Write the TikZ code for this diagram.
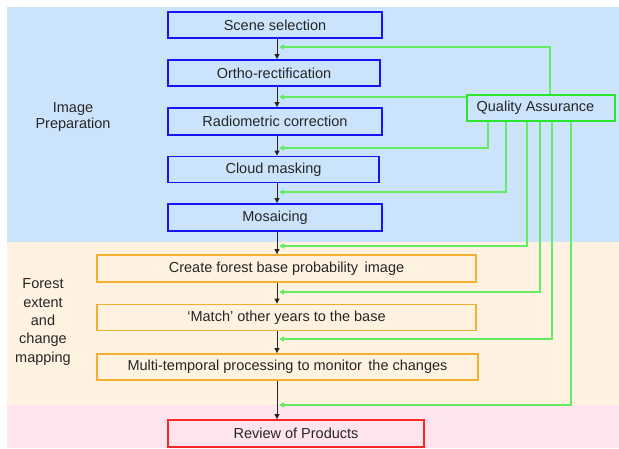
\documentclass[tikz,border=0pt]{standalone}
\usepackage{fontspec}
\setmainfont{Liberation Sans}
\usetikzlibrary{arrows.meta}
\definecolor{bgblue}{RGB}{204,228,251}
\definecolor{bgbeige}{RGB}{255,242,224}
\definecolor{bgpink}{RGB}{255,228,238}
\definecolor{bblue}{RGB}{20,20,245}
\definecolor{borange}{RGB}{240,176,48}
\definecolor{bred}{RGB}{250,40,40}
\definecolor{bgreen}{RGB}{40,230,40}
\definecolor{lgreen}{RGB}{100,235,100}
\tikzset{
  txt/.style={font=\fontsize{14.5}{17.5}\selectfont, text=black!85},
  stepbox/.style={txt, draw, line width=1.8pt, inner sep=0pt, anchor=center},
  bluebox/.style={stepbox, draw=bblue},
  orangebox/.style={stepbox, draw=borange},
  redbox/.style={stepbox, draw=bred},
  qabox/.style={draw=bgreen, line width=1.8pt, inner sep=0pt, minimum width=148, minimum height=26},
  blk/.style={draw=black!85, line width=0.9pt, -{Triangle[length=5,width=5]}},
  grn/.style={draw=lgreen, line width=1.2pt, -{Triangle[length=5,width=5]}, color=lgreen},
}
\begin{document}
\begin{tikzpicture}[x=1pt,y=-1pt]
\useasboundingbox (0,0) rectangle (619,448);
% backgrounds
\fill[bgblue] (7,7) rectangle (619,242);
\fill[bgbeige] (7,242) rectangle (619,405);
\fill[bgpink] (7,405) rectangle (619,448);
% side labels
\node[txt, align=center] (lab1) at (73,117) {Image\\[-1pt]Preparation};
\node[txt, align=center, font=\fontsize{14.5}{18.3}\selectfont] (lab2) at (43,322) {Forest\\extent\\and\\change\\mapping};
% boxes
\node[bluebox, minimum width=214, minimum height=26] (scene) at (275,25) {Scene selection};
\node[bluebox, minimum width=212, minimum height=26] (ortho) at (274,73) {Ortho-rectification};
\node[bluebox, minimum width=214, minimum height=27] (radio) at (275,121.5) {Radiometric correction};
\node[bluebox, minimum width=211, minimum height=26] (cloud) at (273.5,169.5) {Cloud masking};
\node[bluebox, minimum width=214, minimum height=27] (mosaic) at (275,217.5) {Mosaicing};
\node[orangebox, minimum width=379, minimum height=27] (create) at (286.5,268.5) {Create forest base probability\, image};
\node[orangebox, minimum width=379, minimum height=26] (match) at (286.5,317.5) {‘Match’ other years to the base};
\node[orangebox, minimum width=381, minimum height=26] (multi) at (287.5,367) {Multi-temporal processing to monitor\, the changes};
\node[redbox, minimum width=256, minimum height=27] (review) at (296,433.5) {Review of Products};
\node[qabox] (qa) at (541,108) {};
\node[txt, anchor=west] (qatext) at ([xshift=7]qa.west) {Quality Assurance};
% spine
\coordinate (sp) at (277,0);
\draw[blk] (scene.south -| sp) -- (ortho.north -| sp);
\draw[blk] (ortho.south -| sp) -- (radio.north -| sp);
\draw[blk] (radio.south -| sp) -- (cloud.north -| sp);
\draw[blk] (cloud.south -| sp) -- (mosaic.north -| sp);
\draw[blk] (mosaic.south -| sp) -- (create.north -| sp);
\draw[blk] (create.south -| sp) -- (match.north -| sp);
\draw[blk] (match.south -| sp) -- (multi.north -| sp);
\draw[blk] (multi.south -| sp) -- (review.north -| sp);
% green feedback
\coordinate (g1) at (279,47);
\coordinate (g2) at (279,97);
\coordinate (g3) at (279,148);
\coordinate (g4) at (279,192);
\coordinate (g5) at (279,246);
\coordinate (g6) at (279,292);
\coordinate (g7) at (279,339);
\coordinate (g8) at (279,405);
\draw[grn] (qa.north -| 550,0) |- (g1);
\draw[grn] (qa.west |- g2) -- (g2);
\draw[grn] (qa.south -| 488,0) |- (g3);
\draw[grn] (qa.south -| 506,0) |- (g4);
\draw[grn] (qa.south -| 527,0) |- (g5);
\draw[grn] (qa.south -| 540,0) |- (g6);
\draw[grn] (qa.south -| 552,0) |- (g7);
\draw[grn] (qa.south -| 571,0) |- (g8);
\end{tikzpicture}
\end{document}
